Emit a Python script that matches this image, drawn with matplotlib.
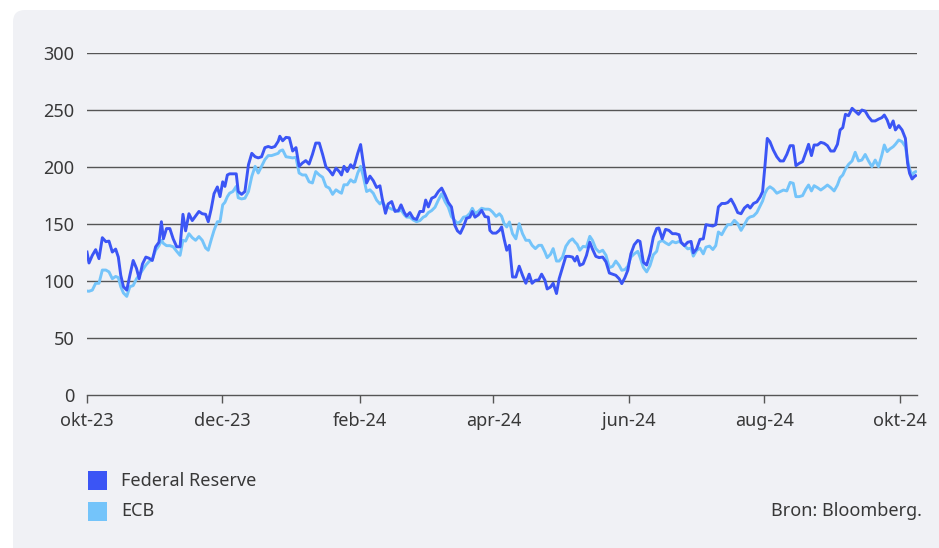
import numpy as np
import pandas as pd
import matplotlib
matplotlib.use("Agg")
import matplotlib.pyplot as plt
from matplotlib.patches import FancyBboxPatch, Rectangle

# dagen sinds 1 okt 2023
days = [0, 0.9, 2.4, 3.9, 5.4, 6.9, 8.5, 9.9, 11.4, 12.9, 14.1, 15.2, 16.4, 17.9, 19.3,
        20.8, 22.3, 23.5, 25.0, 26.5, 27.9, 29.4, 30.9, 32.4, 33.5, 34.4, 35.8, 37.3, 38.8,
        40.4, 41.9, 43.2, 44.4, 45.9, 47.4, 48.9, 50.4, 51.9, 53.4, 54.6, 55.9, 57.2, 58.7,
        59.9, 61.1, 62.1, 63.2, 64.2, 65.7, 67.2, 68.1, 69.6, 71.1, 72.7, 74.2, 75.7, 77.1,
        78.6, 80.1, 81.6, 83.1, 84.6, 86.1, 86.8, 88.1, 89.6, 91.1, 92.6, 94.1, 95.5, 97.0,
        98.5, 100.0, 101.5, 103.0, 104.6, 106.1, 107.6, 109.1, 110.6, 112.1, 113.6, 114.6,
        115.7, 117.2, 118.7, 120.0,
        120.7, 121.9, 123.2, 124.4, 125.9, 127.4, 128.9, 130.4, 131.9, 132.9, 134.4, 135.6,
        137.2, 138.7, 140.2, 141.4, 142.9, 143.9, 145.4, 146.9, 148.4, 149.9, 151.4, 152.5,
        153.7, 155.2, 156.7, 158.2, 159.7, 161.2, 162.7, 164.1, 165.6, 166.8, 168.1, 169.5,
        170.9, 172.4, 173.5, 174.7, 176.2, 177.7, 179.2, 180.7,
        181.4, 182.6, 184.2, 185.7, 186.7, 187.8, 189.0, 190.2, 191.6, 193.1, 194.6, 196.1,
        197.6, 199.1, 200.4, 201.9, 203.4, 204.7, 206.2, 207.2, 208.7, 209.9, 211.4, 212.6,
        214.1, 215.6, 217.2, 218.6, 219.7, 220.7, 221.9, 223.4, 224.9, 226.4, 227.6, 229.1,
        230.6, 232.2, 233.7, 235.2, 236.7, 238.1, 239.6, 240.8, 242.2, 243.5,
        244.9, 246.4, 248.0, 249.0, 250.5, 252.0, 253.5, 255.0, 256.5, 257.5, 259.0, 260.5,
        262.0, 263.6, 265.1, 266.6, 267.5, 269.0, 270.5, 272.0, 273.0, 274.5, 276.0, 277.5,
        278.7, 280.3, 281.8, 283.1, 284.3, 285.8, 287.3, 288.5, 290.0, 291.5, 293.0, 294.5,
        296.0, 297.5, 298.6, 300.1, 301.6, 303.1,
        304.2, 305.3, 306.3, 307.5, 309.0, 310.6, 312.1, 313.6, 315.1, 316.6, 318.0, 319.2,
        320.7, 322.2, 323.7, 324.9, 326.2, 327.4, 328.9, 330.4, 331.9, 333.4, 334.9, 336.4,
        337.9, 339.1, 340.3, 341.5, 342.9, 344.5, 345.9, 347.4, 348.9, 350.4, 351.9, 353.4,
        354.9, 356.4, 357.9, 359.0, 360.3, 361.5, 363.0, 364.0, 365.5, 367.0, 368.5, 369.5,
        370.4, 371.5, 372.5, 373.1]

fed = [125.4, 115.8, 122.5, 127.5, 119.6, 138, 134.5, 135, 125.4, 128, 121, 105, 95, 92, 105,
       118, 111, 102, 115, 121, 120, 118, 130, 134, 152, 137, 146, 146, 137, 130, 130, 158.5,
       144, 159, 153, 157, 161, 159, 158.5, 152, 163, 176.6, 182.5,
       174, 187, 183, 193, 194, 194, 194, 178.5, 176, 178.5, 202, 212, 209, 208, 209, 217,
       218, 217, 218, 222.6, 227, 223, 226, 225.6, 214, 217, 200.6, 203.5, 205.6, 202.6, 211,
       221, 221, 211, 200, 197, 193, 199, 196, 193, 200.6, 196, 202, 199,
       203.5, 212, 219.7, 203.5, 186, 192, 188, 182, 183.5, 172.6, 159.4, 167.6, 169.7, 161,
       161.8, 166.8, 160, 157, 160, 155, 154, 161, 161, 171, 165, 172.6, 174, 178.5, 181.5,
       175.6, 168.8, 165, 149, 144, 141.8, 147.6, 155, 156, 161, 156, 158, 162, 156.5, 156,
       144.4, 142, 142, 144.4, 147.4, 137, 127, 131.3, 103.5, 103.5, 113, 105, 98, 106, 98,
       100.6, 101, 106, 100.6, 93, 94.7, 98, 89, 102, 111.7, 121.6, 121.6, 121, 117.5, 121.6,
       113.7, 115, 122.5, 134, 128, 121.6, 120.5, 121, 116.7, 107, 106, 105, 102, 97.7, 103,
       109.4,
       123.8, 131.8, 135.6, 134.7, 116.5, 114, 123.8, 138.5, 146, 146.5, 137, 145.3, 144.4,
       141.5, 141.5, 140.6, 134, 131, 134, 134.7, 124.7, 128.2, 136.5, 137, 149.4, 148.8,
       148.2, 149.4, 165, 168, 168, 168.8, 171.8, 166.5, 160, 159, 164, 166.5, 164, 168,
       169.4, 173.8,
       178.4, 201.8, 225.1, 222.2, 215, 209, 205.3, 205.3, 211, 218.7, 218.7, 201.2, 203.2,
       204.7, 212.9, 219.9, 210, 219.3, 219.3, 221.6, 220.8, 218.7, 214, 214, 219.9, 232.5,
       234.5, 246.2, 245, 251.5, 249, 246.2, 250, 249, 244, 240.4, 240.4, 242, 243.3, 245.6,
       241.2, 234.5, 240.4, 232.5, 236.3, 232.5, 225.1, 203.2, 194.4, 189.5, 191.5, 192.4]

ecb = [91.2, 91, 92, 98, 98, 109.6, 109.6, 108, 102, 104, 103, 95, 89.5, 86.5, 95, 96, 102,
       105, 109.6, 114, 117, 119, 127, 131, 135.7, 133, 131, 131, 130, 126, 122.5, 135.7, 135,
       141.5, 138, 135.7, 139, 135.7, 129, 127, 136, 144.4, 152,
       152, 166.8, 169, 174, 177, 178.5, 183, 173, 172, 172.6, 178.5, 191.8, 200.6, 194.7,
       200.6, 206.5, 210, 210, 211, 212, 214, 215, 209, 208.5, 208, 208.5, 194.7, 193, 193,
       187, 186, 196, 193, 191, 183, 181.5, 176, 180, 178, 177, 184.4, 184.4, 188.8, 186.8,
       187, 194.7, 200.6, 191.8, 178.5, 180, 177, 171, 167.6, 169.7, 165, 164.7, 163, 162.4,
       161, 162.4, 158, 156, 156, 153.5, 152, 153, 156, 157, 160, 161.8, 164.7, 171, 176.5,
       169.7, 164.7, 156.5, 153, 150.6, 152, 156, 156.5, 159.4, 163.8, 159.4, 161, 163.8,
       163, 163,
       162.6, 160.5, 156.7, 159, 156.7, 150.3, 147.4, 151.8, 141.5, 137, 150.3, 141.5, 135.7,
       135.7, 131.3, 128.4, 131.3, 131.3, 125.4, 120.5, 123.4, 128.4, 117.5, 117.5, 121,
       130.4, 135, 137, 134.2, 132.2, 127, 130.4, 129.8, 139.2, 135.7, 128.4, 125.4, 127,
       122.5, 111.7, 112.9, 117.5, 113.7, 109.4, 110, 112.9,
       121, 123.8, 126, 121, 112, 108, 113.5, 123, 126, 134, 135.6, 133.5, 131.8, 134.7,
       133.5, 134.7, 133.5, 131, 128.2, 128.8, 121.8, 126.8, 128.8, 123.8, 129.7, 130.6,
       127.6, 131, 143, 140.6, 146, 149.4, 149.4, 153.2, 150.3, 144.4, 149.4, 154.7, 156.2,
       157, 160, 165.9,
       170.2, 177, 180.7, 182.7, 180.7, 177, 178.4, 179.8, 179, 186.5, 185.7, 174, 174, 174.9,
       180.7, 184.2, 179, 183.6, 181.9, 179.8, 181.9, 184.2, 181.9, 179, 184.2, 190.6, 193,
       198.2, 202.3, 205.3, 212.9, 205.3, 206.1, 211, 205.3, 200.3, 206.1, 200.3, 210.5,
       219.3, 213.5, 215.8, 217.8, 219.9, 223.7, 222.2, 217.8, 206.1, 198.2, 193, 195.3,
       195.9]

tick_dates = ["2023-10-01", "2023-12-01", "2024-02-01", "2024-04-01", "2024-06-01",
              "2024-08-01", "2024-10-01"]
tick_labels = ["okt-23", "dec-23", "feb-24", "apr-24", "jun-24", "aug-24", "okt-24"]
y_ticks = [0, 50, 100, 150, 200, 250, 300]

series_names = ["Federal Reserve", "ECB"]
colors = ["#3b55f5", "#74c4fa"]

start = pd.Timestamp("2023-10-01")
dates = start + pd.to_timedelta(days, unit="D")

plt.rcParams["font.family"] = ["Noto Sans", "DejaVu Sans"]
text_col = "#383838"
grid_col = "#555555"
fs = 13

fig = plt.figure(figsize=(9.39, 5.48), dpi=100)
fig.patch.set_facecolor("white")

# achtergrondpaneel met afgeronde hoeken (pixels)
panel = FancyBboxPatch((13, -20), 960, 558, boxstyle="round,pad=0,rounding_size=12",
                       transform=None, facecolor="#f0f1f5", edgecolor="none", zorder=-10)
fig.patches.append(panel)

W, H = 939, 548
ax = fig.add_axes([87 / W, 1 - 395 / H, (916.5 - 87) / W, (395 - 53) / H])
ax.set_facecolor("none")
ax.set_zorder(2)

ax.plot(dates, ecb, color=colors[1], lw=2.1, zorder=3, solid_joinstyle="round")
ax.plot(dates, fed, color=colors[0], lw=2.1, zorder=4, solid_joinstyle="round")

ax.set_ylim(0, 300)
ax.set_xlim(start, start + pd.Timedelta(days=373.5))
ax.set_yticks(y_ticks)
ax.set_yticklabels([str(v) for v in y_ticks])
for v in y_ticks[1:]:
    ax.axhline(v, color=grid_col, lw=1.0, zorder=1)

ax.set_xticks(pd.to_datetime(tick_dates))
ax.set_xticklabels(tick_labels)

for s in ["top", "right", "left"]:
    ax.spines[s].set_visible(False)
ax.spines["bottom"].set_color(grid_col)
ax.spines["bottom"].set_linewidth(1.0)
ax.spines["bottom"].set_zorder(2)

ax.tick_params(axis="y", length=0, pad=9, labelsize=fs, labelcolor=text_col)
ax.tick_params(axis="x", length=6, width=1.0, color=grid_col, pad=6,
               labelsize=fs, labelcolor=text_col)

# legenda
for i, name in enumerate(series_names):
    yc = 1 - (480.5 + i * 31) / H
    fig.patches.append(Rectangle((88 / W, yc - 9.5 / H), 19 / W, 19 / H,
                                 transform=fig.transFigure, facecolor=colors[i],
                                 edgecolor="none"))
    fig.text(121 / W, yc, name, ha="left", va="center", fontsize=fs, color=text_col)

fig.text(922 / W, 1 - 511.5 / H, "Bron: Bloomberg.", ha="right", va="center",
         fontsize=fs, color=text_col)

fig.savefig("out.png", dpi=100, facecolor=fig.get_facecolor())
